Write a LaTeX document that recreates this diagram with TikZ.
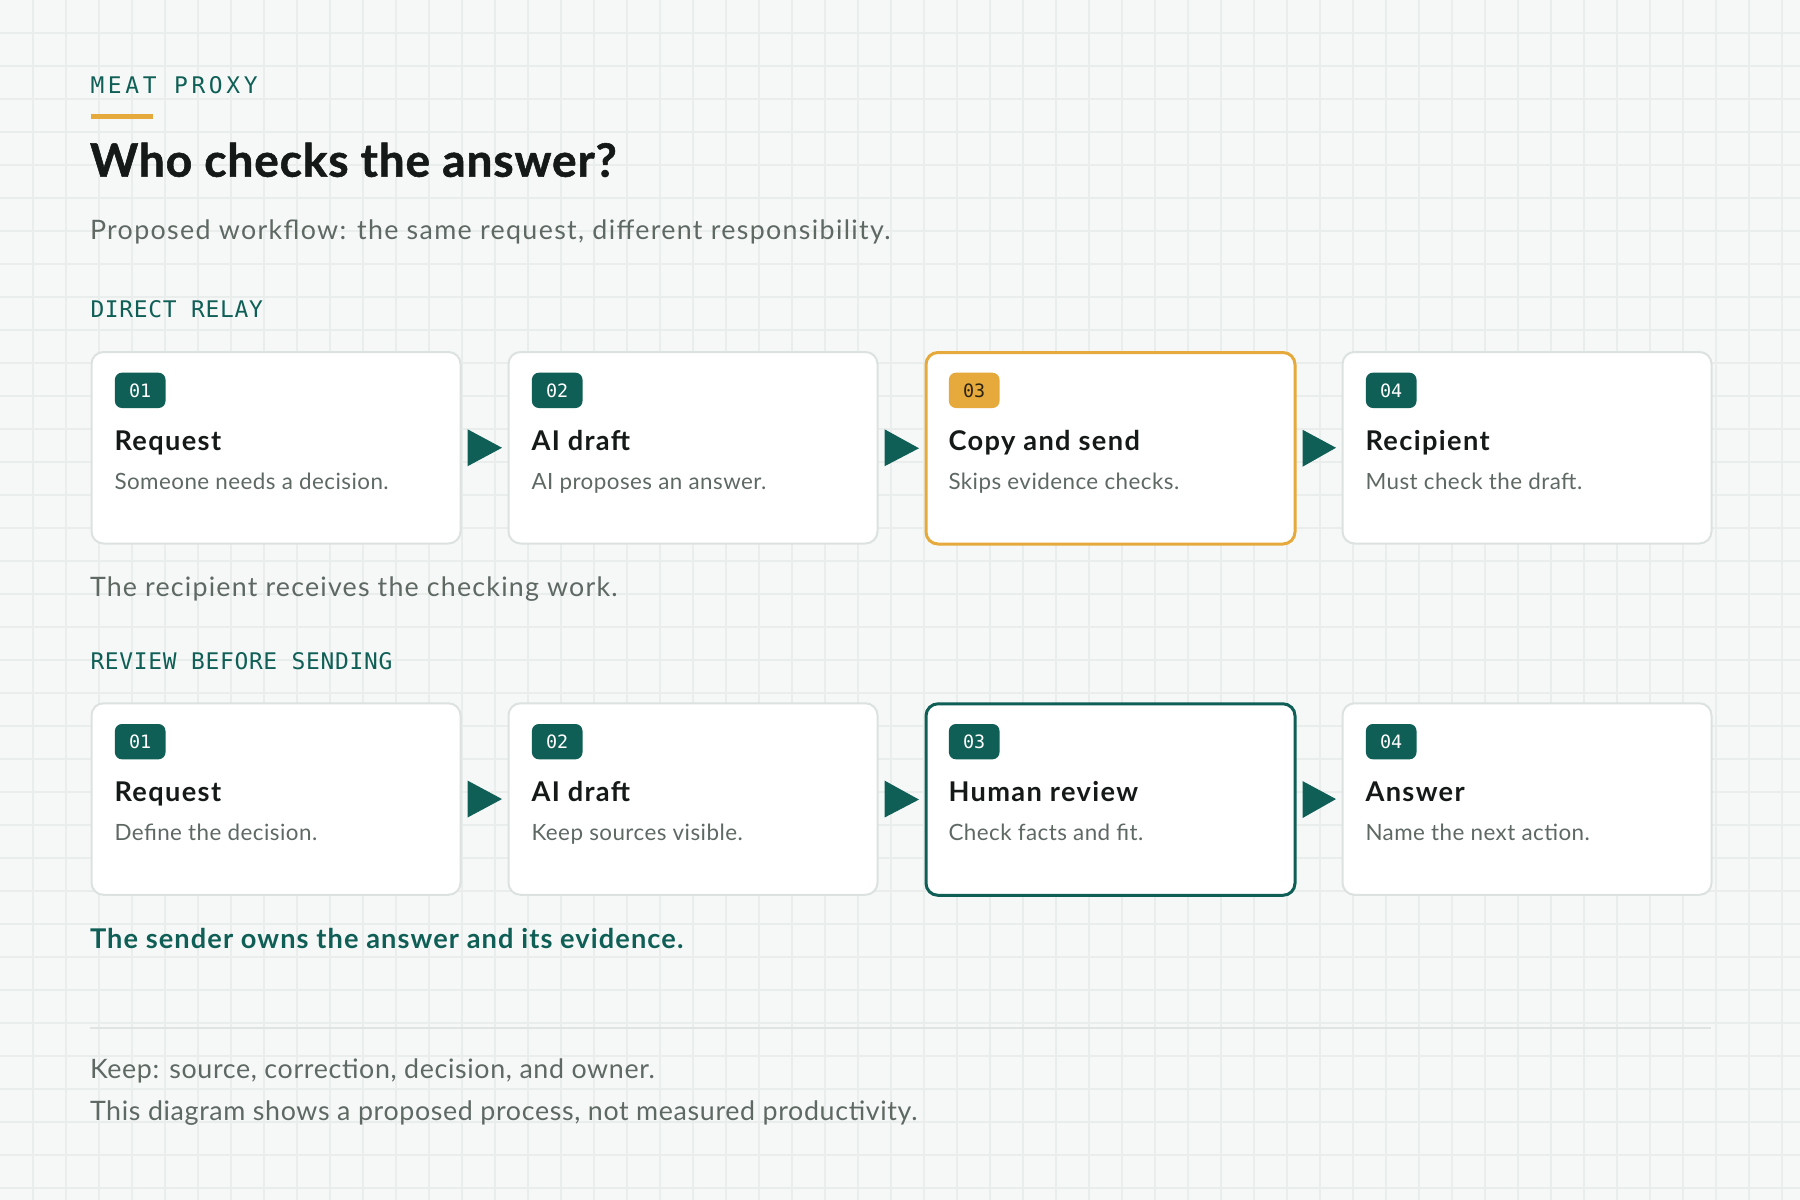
\documentclass[tikz,border=0pt]{standalone}
\usepackage{fontspec}
\setmainfont{Lato}
\newfontfamily\subf{Lato}[LetterSpace=5]
\newfontfamily\notaf{Lato}[LetterSpace=4.5]
\newfontfamily\footf{Lato}[LetterSpace=2.4]
\newfontfamily\descf{Lato}[LetterSpace=2]
\newfontfamily\ctitlef{Lato}[LetterSpace=5]
\newfontfamily\notef{Lato}[LetterSpace=4]
\newfontfamily\titlef{Lato}[LetterSpace=2, BoldFeatures={FakeBold=1.2}]
\newfontfamily\monof{DejaVu Sans Mono}
\newfontfamily\monowide{DejaVu Sans Mono}[LetterSpace=16]
\newfontfamily\monolab{DejaVu Sans Mono}[LetterSpace=3]
\usetikzlibrary{calc}
\definecolor{brandteal}{HTML}{0F5F56}
\definecolor{brandorange}{HTML}{E5A93C}
\definecolor{inkdark}{HTML}{151A18}
\definecolor{inkgray}{HTML}{5F6964}
\definecolor{cardline}{HTML}{DCE2DF}
\definecolor{bggray}{HTML}{F6F8F7}
\definecolor{gridgray}{HTML}{E9EDEB}
\definecolor{sepline}{HTML}{E0E4E2}
\definecolor{badgeink}{HTML}{2A2412}
\tikzset{
  txt/.style={inner sep=0pt, outer sep=0pt, anchor=base west},
  gridln/.style={draw=gridgray, line width=0.75pt},
  card/.style={draw=cardline, line width=1pt, fill=white, rounded corners=6pt,
    minimum width=184.5pt, minimum height=95.75pt, anchor=north west, inner sep=0pt},
  cardwarn/.style={card, draw=brandorange, line width=1.5pt},
  cardgood/.style={card, draw=brandteal, line width=1.5pt},
  badge/.style={fill=brandteal, text=white, rounded corners=3.5pt, anchor=north west,
    minimum width=25.3pt, minimum height=17.65pt, inner sep=0pt,
    font=\monof\fontsize{9.2pt}{10pt}\selectfont},
  badgewarn/.style={badge, fill=brandorange, text=badgeink},
  cardtitle/.style={txt, text=inkdark, font=\ctitlef\bfseries\fontsize{13.6pt}{15pt}\selectfont},
  carddesc/.style={txt, text=inkgray, font=\descf\fontsize{11.2pt}{13pt}\selectfont},
  seclabel/.style={txt, text=brandteal, font=\monolab\fontsize{11.45pt}{13pt}\selectfont},
  bodytxt/.style={txt, text=inkgray, font=\fontsize{13.4pt}{15pt}\selectfont}
}
\newcommand\mkcard[8]{%
  \node[#4] (#1) at (#2,#3) {};
  \node[#5] (#1b) at ($(#1.north west)+(24,21.3)$) {#6};
  \node[cardtitle] (#1t) at ($(#1.north west)+(24,99)$) {#7};
  \node[carddesc] (#1d) at ($(#1.north west)+(24,138)$) {#8};
}
\newcommand\flowarrow[2]{%
  \fill[brandteal] ($(#1.east)+(6,-18.5)$) -- ($(#1.east)+(6,18.5)$) -- ($(#2.west)+(-5.5,0)$) -- cycle;
}
\begin{document}
\begin{tikzpicture}[x=0.5pt,y=-0.5pt]
\fill[bggray] (0,0) rectangle (1800,1200);
\useasboundingbox (0,0) rectangle (1800,1200);
\foreach \i in {1,...,54} \draw[gridln] (\i*33,0) -- (\i*33,1200);
\foreach \j in {1,...,36} \draw[gridln] (0,\j*33) -- (1800,\j*33);

\node[txt, text=brandteal, font=\monowide\fontsize{11.45pt}{13pt}\selectfont] (kicker) at (90.5,93.3) {MEAT PROXY};
\fill[brandorange] (90.5,114.3) rectangle (153,119);
\node[txt, text=inkdark, font=\titlef\bfseries\fontsize{23pt}{26pt}\selectfont] (title) at (90,176.7) {Who checks the answer?};
\node[bodytxt, font=\subf\fontsize{13.4pt}{15pt}\selectfont] (sub) at (90,239.3) {Proposed workflow: the same request, different responsibility.};

\node[seclabel] (lab1) at (90.5,317.7) {DIRECT RELAY};
\mkcard{a1}{90.5}{351}{card}{badge}{01}{Request}{Someone needs a decision.}
\mkcard{a2}{507.5}{351}{card}{badge}{02}{AI draft}{AI proposes an answer.}
\mkcard{a3}{924.5}{351}{cardwarn}{badgewarn}{03}{Copy and send}{Skips evidence checks.}
\mkcard{a4}{1341.5}{351}{card}{badge}{04}{Recipient}{Must check the draft.}
\flowarrow{a1}{a2}
\flowarrow{a2}{a3}
\flowarrow{a3}{a4}
\node[bodytxt, font=\notaf\fontsize{13.4pt}{15pt}\selectfont] (note1) at (90,596.7) {The recipient receives the checking work.};

\node[seclabel] (lab2) at (90.5,669) {REVIEW BEFORE SENDING};
\mkcard{b1}{90.5}{702.3}{card}{badge}{01}{Request}{Define the decision.}
\mkcard{b2}{507.5}{702.3}{card}{badge}{02}{AI draft}{Keep sources visible.}
\mkcard{b3}{924.5}{702.3}{cardgood}{badge}{03}{Human review}{Check facts and fit.}
\mkcard{b4}{1341.5}{702.3}{card}{badge}{04}{Answer}{Name the next action.}
\flowarrow{b1}{b2}
\flowarrow{b2}{b3}
\flowarrow{b3}{b4}
\node[txt, text=brandteal, font=\notef\bfseries\fontsize{13.6pt}{16pt}\selectfont] (note2) at (90,948.3) {The sender owns the answer and its evidence.};

\coordinate (sepL) at (89.5,1028.3);
\coordinate (sepR) at (1710.5,1028.3);
\draw[sepline, line width=1pt] (sepL) -- (sepR);
\node[bodytxt, font=\footf\fontsize{13.4pt}{15pt}\selectfont] (foot1) at (90,1078.3) {Keep: source, correction, decision, and owner.};
\node[bodytxt, font=\footf\fontsize{13.4pt}{15pt}\selectfont] (foot2) at (90,1120) {This diagram shows a proposed process, not measured productivity.};
\end{tikzpicture}
\end{document}
